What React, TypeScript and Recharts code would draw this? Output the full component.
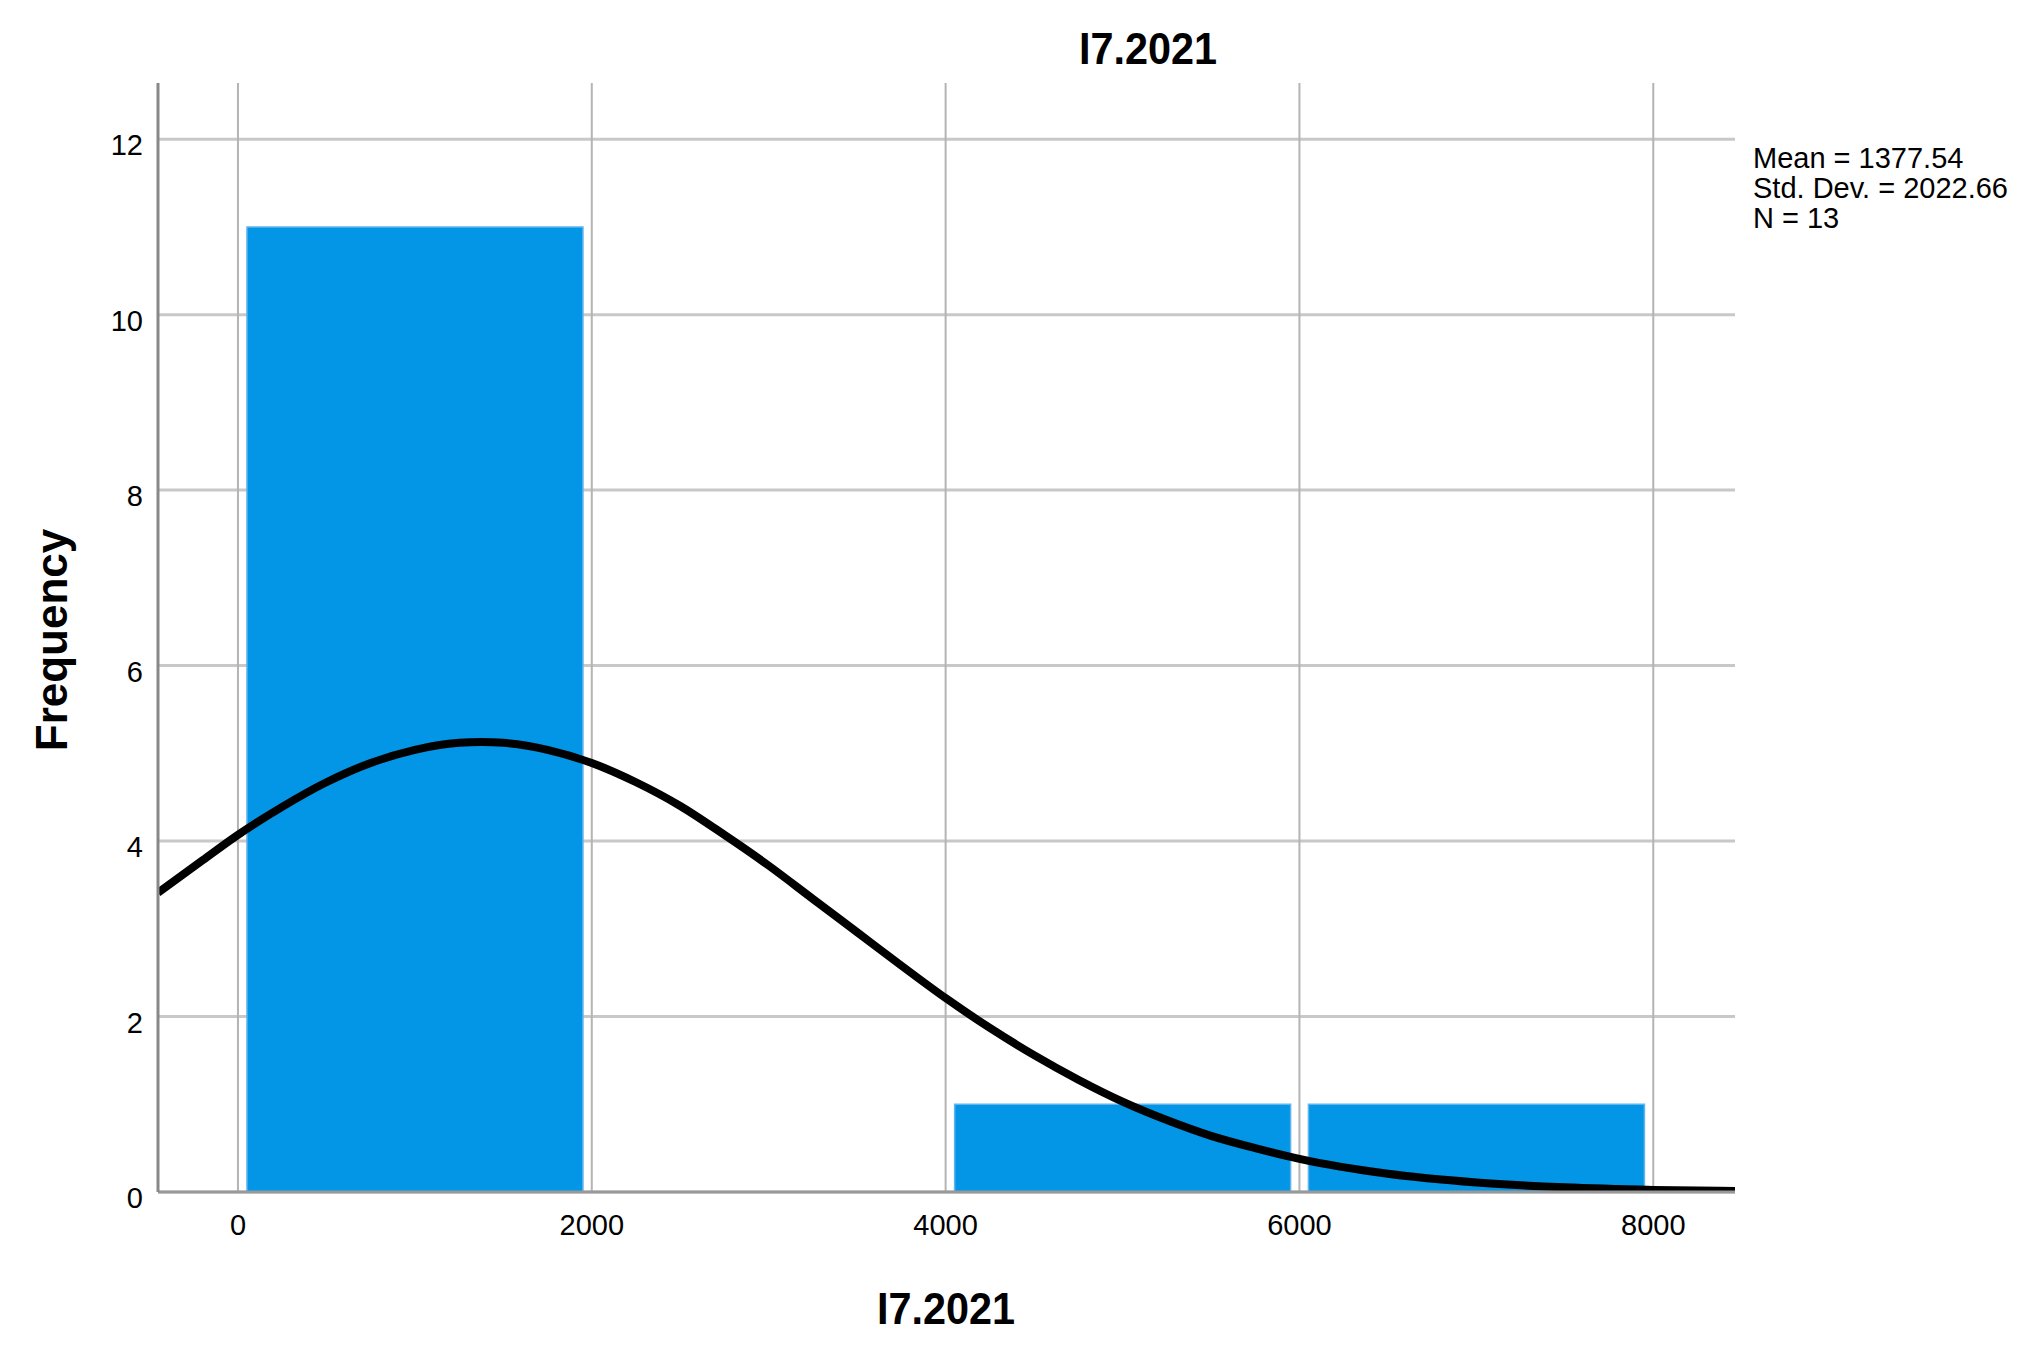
import React from "react";
import { ComposedChart, Bar, Line, XAxis, YAxis, CartesianGrid } from "recharts";

// Histogram bins (bin centres) and counts
const binCenters = [1000, 3000, 5000, 7000];
const binCounts = [11, 0, 1, 1];

// Normal curve
const curveX = [-452, -200, 0, 250, 500, 750, 1000, 1250, 1378, 1500, 1750, 2000, 2250, 2500, 2750, 3000, 3250, 3500, 3750, 4000, 4250, 4500, 4750, 5000, 5250, 5500, 5750, 6000, 6500, 7000, 7500, 8000, 8462];
const curveY = [3.41, 3.78, 4.07, 4.39, 4.67, 4.89, 5.04, 5.12, 5.13, 5.12, 5.04, 4.89, 4.67, 4.4, 4.07, 3.72, 3.34, 2.96, 2.58, 2.21, 1.87, 1.56, 1.28, 1.03, 0.82, 0.64, 0.5, 0.377, 0.207, 0.108, 0.053, 0.024, 0.011];

const xTicks = [0, 2000, 4000, 6000, 8000];
const yTicks = [0, 2, 4, 6, 8, 10, 12];
const xDomain = [-452, 8462];
const yDomain = [0, 12.64];

const title = "I7.2021";
const xLabel = "I7.2021";
const yLabel = "Frequency";
const statsLines = ["Mean = 1377.54", "Std. Dev. = 2022.66", "N = 13"];

const histData = binCenters.map((x, i) => ({ x, count: binCounts[i] }));
const curveData = curveX.map((x, i) => ({ x, y: curveY[i] }));

const FONT = "'Liberation Sans', Arial, sans-serif";

const YTick = (props: any) => {
  const { x, y, payload } = props;
  return (
    <text x={x} y={y + 16} textAnchor="end" fontFamily={FONT} fontSize={29} fill="#000">
      {payload.value}
    </text>
  );
};

const XTick = (props: any) => {
  const { x, y, payload } = props;
  return (
    <text x={x} y={y} textAnchor="middle" fontFamily={FONT} fontSize={29} fill="#000">
      {payload.value}
    </text>
  );
};

export default function App() {
  return (
    <div style={{ position: "absolute", left: 0, top: 0, width: 2038, height: 1345, background: "#fff" }}>
      <ComposedChart
        width={2038}
        height={1345}
        data={histData}
        margin={{ top: 83, right: 303, bottom: 93, left: 98 }}
      >
        <CartesianGrid vertical={false} stroke="#c8c8c8" strokeWidth={3} horizontalValues={yTicks} />
        <CartesianGrid horizontal={false} stroke="#b4b4b4" strokeWidth={2} verticalValues={xTicks} />
        <XAxis
          dataKey="x"
          type="number"
          domain={xDomain}
          ticks={xTicks}
          allowDataOverflow
          height={60}
          tickSize={0}
          tickMargin={43}
          tick={<XTick />}
          axisLine={{ stroke: "#999", strokeWidth: 3 }}
          tickLine={false}
        />
        <XAxis
          xAxisId="curve"
          dataKey="x"
          type="number"
          domain={xDomain}
          allowDataOverflow
          hide
        />
        <YAxis
          type="number"
          domain={yDomain}
          ticks={yTicks}
          allowDataOverflow
          width={60}
          tickSize={0}
          tickMargin={15}
          tick={<YTick />}
          axisLine={{ stroke: "#888", strokeWidth: 3 }}
          tickLine={false}
        />
        <Bar dataKey="count" barSize={336} fill="#0396e6" stroke="#62b4ee" strokeWidth={1.5} isAnimationActive={false} />
        <Line
          xAxisId="curve"
          data={curveData}
          dataKey="y"
          type="monotone"
          stroke="#000"
          strokeWidth={8}
          dot={false}
          activeDot={false}
          isAnimationActive={false}
        />
        <text x={1148} y={64} textAnchor="middle" fontFamily={FONT} fontWeight="bold" fontSize={44} textLength={138} lengthAdjust="spacingAndGlyphs" fill="#000">
          {title}
        </text>
        <text x={946} y={1324} textAnchor="middle" fontFamily={FONT} fontWeight="bold" fontSize={44} textLength={138} lengthAdjust="spacingAndGlyphs" fill="#000">
          {xLabel}
        </text>
        <text x={67} y={640} transform="rotate(-90, 67, 640)" textAnchor="middle" fontFamily={FONT} fontWeight="bold" fontSize={44} fill="#000">
          {yLabel}
        </text>
        {statsLines.map((s, i) => (
          <text key={i} x={1753} y={168 + i * 30} fontFamily={FONT} fontSize={29} fill="#000">
            {s}
          </text>
        ))}
      </ComposedChart>
    </div>
  );
}
